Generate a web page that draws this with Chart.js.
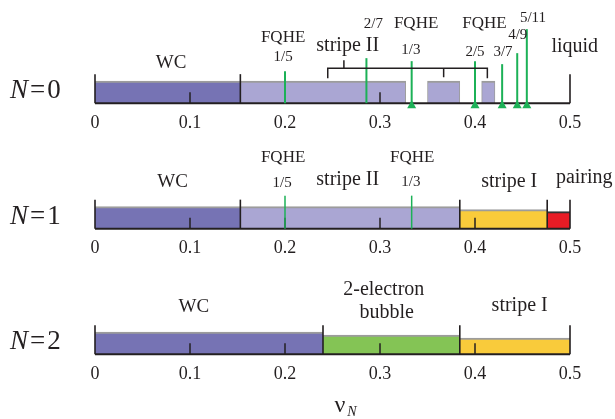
<!DOCTYPE html>
<html>
<head>
<meta charset="utf-8">
<script src="https://cdn.jsdelivr.net/npm/chart.js@4/dist/chart.umd.min.js"></script>
<style>
html, body { margin: 0; padding: 0; background: #fff; }
</style>
</head>
<body>
<canvas id="phases" width="615" height="419"></canvas>
<script>
// rows of the diagram, one per Landau level
const rows = ['N=0', 'N=1', 'N=2'];
const tickValues = [0, 0.1, 0.2, 0.3, 0.4, 0.5];

// phase ranges per row [from, to] in nu_N
const wc        = [[0, 0.153], [0, 0.153], [0, 0.24]];
const stripeII  = [[0.153, 0.327], [0.153, 0.384], null];
const stripeIIb = [[0.35, 0.384], null, null];
const stripeIIc = [[0.407, 0.421], null, null];
const stripeI   = [null, [0.384, 0.476], [0.384, 0.5]];
const pairing   = [null, [0.476, 0.5], null];
const bubble    = [null, null, [0.24, 0.384]];

// phase boundaries drawn as tall black ticks
const boundaries = [[0, 0.153, 0.5], [0, 0.153, 0.384, 0.476, 0.5], [0, 0.24, 0.384, 0.5]];

// FQHE fractions
const fqheValues = [[1/5, 2/7, 1/3, 2/5, 3/7, 4/9, 5/11], [1/5, 1/3], []];
const fqheMarked = [[false, false, true, true, true, true, true], [false, false], []];

// stripe II bracket in row N=0 (ends, middle, stem)
const bracketValues = [0.245, 0.367, 0.413];
const bracketStem = 0.262;

// --- layout / style (not data) ---
const BAR = 22;
const lineHeights = [[32, 45, 42, 42, 39, 50, 74], [33, 33], []];
const serif = '"Liberation Serif", "DejaVu Serif", serif';
const textItems = [
  // [row, nu, dy above row bottom, text, size]
  [0, 0.080, -40, 'WC', 19],
  [0, 0.198, -66, 'FQHE', 17],
  [0, 0.198, -46, '1/5', 15],
  [0, 0.266, -57, 'stripe II', 20],
  [0, 0.293, -79, '2/7', 15],
  [0, 0.338, -80, 'FQHE', 17],
  [0, 0.3325, -53, '1/3', 15],
  [0, 0.410, -80, 'FQHE', 17],
  [0, 0.400, -51, '2/5', 15],
  [0, 0.4295, -51, '3/7', 15],
  [0, 0.445, -68, '4/9', 15],
  [0, 0.461, -85, '5/11', 15],
  [0, 0.505, -56, 'liquid', 20],
  [1, 0.0816, -47, 'WC', 19],
  [1, 0.198, -71, 'FQHE', 17],
  [1, 0.197, -46, '1/5', 15],
  [1, 0.266, -49, 'stripe II', 20],
  [1, 0.334, -71, 'FQHE', 17],
  [1, 0.3325, -47, '1/3', 15],
  [1, 0.436, -47, 'stripe I', 20],
  [1, 0.515, -51, 'pairing', 20],
  [2, 0.104, -47, 'WC', 19],
  [2, 0.304, -64, '2-electron', 20],
  [2, 0.307, -41, 'bubble', 20],
  [2, 0.447, -48, 'stripe I', 20]
];

const DARK = '#7673b4';
const LIGHT = '#aaa6d3';
const YELLOW = '#f9cb3b';
const RED = '#e81c25';
const BUBBLE = '#84c455';
const FQHE_GREEN = '#1cb157';
const INK = '#231f20';

function phaseSet(data, color, extra) {
  return Object.assign({
    data: data,
    backgroundColor: color,
    borderColor: '#9c9c9c',
    borderWidth: { top: 2, right: 0, bottom: 0, left: 0 },
    borderSkipped: false,
    barThickness: BAR,
    grouped: false
  }, extra || {});
}

// thinner bars sit on the same baseline as the others
const bottomAlign = {
  id: 'bottomAlign',
  afterDatasetsUpdate(chart) {
    chart.data.datasets.forEach((ds, i) => {
      if (!ds.rowThickness) return;
      chart.getDatasetMeta(i).data.forEach((el, j) => {
        const t = ds.rowThickness[j];
        if (!t) return;
        el.y += (el.height - t) / 2;
        el.height = t;
      });
    });
  }
};

const decorations = {
  id: 'decorations',
  afterDatasetsDraw(chart) {
    const ctx = chart.ctx;
    const xs = chart.scales.x, ys = chart.scales.y;
    ctx.save();
    rows.forEach((r, i) => {
      const yB = ys.getPixelForValue(i) + BAR / 2;
      // small ticks inside the bar
      ctx.strokeStyle = INK;
      ctx.lineWidth = 1.5;
      [0.1, 0.2, 0.3, 0.4].forEach(v => {
        const x = xs.getPixelForValue(v);
        ctx.beginPath(); ctx.moveTo(x, yB); ctx.lineTo(x, yB - 11); ctx.stroke();
      });
      // baseline
      ctx.lineWidth = 2;
      ctx.beginPath();
      ctx.moveTo(xs.getPixelForValue(0), yB);
      ctx.lineTo(xs.getPixelForValue(0.5), yB);
      ctx.stroke();
      // boundaries
      ctx.lineWidth = 1.6;
      boundaries[i].forEach(v => {
        const x = xs.getPixelForValue(v);
        ctx.beginPath(); ctx.moveTo(x, yB); ctx.lineTo(x, yB - 29); ctx.stroke();
      });
      // FQHE lines
      ctx.strokeStyle = FQHE_GREEN;
      ctx.fillStyle = FQHE_GREEN;
      ctx.lineWidth = i === 0 ? 2 : 1.5;
      fqheValues[i].forEach((v, k) => {
        const x = xs.getPixelForValue(v);
        ctx.beginPath(); ctx.moveTo(x, yB); ctx.lineTo(x, yB - lineHeights[i][k]); ctx.stroke();
        if (fqheMarked[i][k]) {
          ctx.beginPath();
          ctx.moveTo(x, yB - 3);
          ctx.lineTo(x - 4.5, yB + 5);
          ctx.lineTo(x + 4.5, yB + 5);
          ctx.closePath();
          ctx.fill();
        }
      });
      // tick labels
      ctx.fillStyle = INK;
      ctx.font = '18px ' + serif;
      ctx.textAlign = 'center';
      ctx.textBaseline = 'middle';
      tickValues.forEach(v => {
        ctx.fillText(String(v), xs.getPixelForValue(v), yB + 20);
      });
      // row label N=i
      const yc = yB - 12;
      ctx.textAlign = 'left';
      ctx.font = 'italic 27px ' + serif;
      let x = 10;
      ctx.fillText('N', x, yc);
      x += ctx.measureText('N').width + 2;
      ctx.font = '27px ' + serif;
      ctx.fillText('=', x, yc);
      x += ctx.measureText('=').width + 2;
      ctx.fillText(r.split('=')[1], x, yc);
    });

    // stripe II bracket (N=0)
    const yB0 = ys.getPixelForValue(0) + BAR / 2;
    ctx.strokeStyle = INK;
    ctx.lineWidth = 1.5;
    const bl = xs.getPixelForValue(bracketValues[0]);
    const br = xs.getPixelForValue(bracketValues[2]);
    ctx.beginPath();
    ctx.moveTo(bl, yB0 - 25); ctx.lineTo(bl, yB0 - 35); ctx.lineTo(br, yB0 - 35); ctx.lineTo(br, yB0 - 25);
    const bm = xs.getPixelForValue(bracketValues[1]);
    ctx.moveTo(bm, yB0 - 35); ctx.lineTo(bm, yB0 - 26);
    const bs = xs.getPixelForValue(bracketStem);
    ctx.moveTo(bs, yB0 - 35); ctx.lineTo(bs, yB0 - 43);
    ctx.stroke();

    // phase and fraction labels
    ctx.fillStyle = INK;
    ctx.textAlign = 'center';
    ctx.textBaseline = 'middle';
    textItems.forEach(([row, v, dy, t, size]) => {
      const yB = ys.getPixelForValue(row) + BAR / 2;
      ctx.font = size + 'px ' + serif;
      ctx.fillText(t, xs.getPixelForValue(v), yB + dy);
    });

    // axis title nu_N
    ctx.font = '24px ' + serif;
    ctx.fillText('\u03bd', 340, 406);
    ctx.font = 'italic 14px ' + serif;
    ctx.fillText('N', 352, 412);
    ctx.restore();
  }
};

new Chart(document.getElementById('phases'), {
  type: 'bar',
  data: {
    labels: rows,
    datasets: [
      phaseSet(wc, DARK),
      phaseSet(stripeII, LIGHT, { borderWidth: { top: 2, right: 1, bottom: 0, left: 0 } }),
      phaseSet(stripeIIb, LIGHT, { borderWidth: { top: 2, right: 1, bottom: 0, left: 1 } }),
      phaseSet(stripeIIc, LIGHT, { borderWidth: { top: 2, right: 1, bottom: 0, left: 1 } }),
      phaseSet(stripeI, YELLOW, { rowThickness: [null, 19, 16] }),
      phaseSet(pairing, RED, { borderColor: '#333', rowThickness: [null, 17, null] }),
      phaseSet(bubble, BUBBLE, { rowThickness: [null, null, 19] })
    ]
  },
  options: {
    responsive: false,
    animation: false,
    events: [],
    indexAxis: 'y',
    layout: { padding: { left: 95, right: 45, top: 29.4, bottom: 13.1 } },
    scales: {
      x: { type: 'linear', min: 0, max: 0.5, display: false },
      y: { type: 'category', display: false, offset: true }
    },
    plugins: {
      legend: { display: false },
      tooltip: { enabled: false }
    }
  },
  plugins: [bottomAlign, decorations]
});
</script>
</body>
</html>
